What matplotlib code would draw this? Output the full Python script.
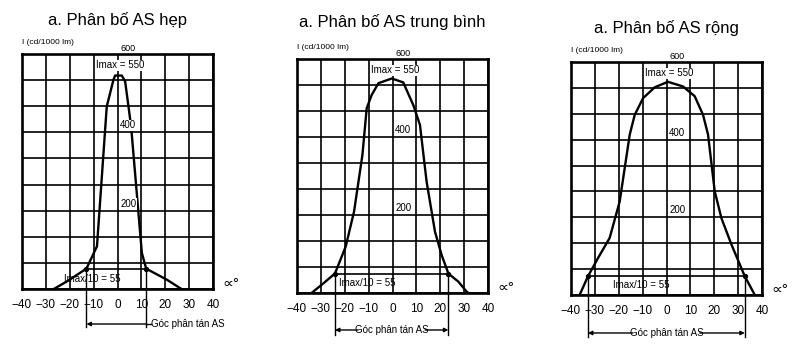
import numpy as np
import matplotlib
matplotlib.use("Agg")
import matplotlib.pyplot as plt

plt.rcParams['font.family'] = ['Liberation Sans', 'DejaVu Sans']

# Light distribution curves
titles = ["a. Phân bố AS hẹp", "a. Phân bố AS trung bình", "a. Phân bố AS rộng"]

narrow_x = [-26.7, -21, -13, -8.6, -4.5, -1.7, -1, 1.8, 3.2, 4.6, 5.7, 10.2, 12, 20.6, 26.8]
narrow_y = [0, 20, 52, 109, 466, 534, 545, 545, 530, 466, 415, 92, 52, 24, 0]

medium_x = [-33.9, -28.9, -24.1, -19.6, -16.1, -12.6, -10.8, -8.7, -5.9, -0.3,
            4.5, 8.7, 11.5, 14.3, 17.8, 20.6, 23.4, 27.6, 31.1, 31.8]
medium_y = [0, 25, 50, 119, 209, 354, 474, 508, 538, 550,
            540, 482, 431, 285, 157, 97, 50, 29, 3, 0]

wide_x = [-36.4, -32.9, -28.7, -23.8, -19.6, -17.5, -15.4, -13.3, -9.8, -4.9, 0.6,
          6.9, 11.8, 15.3, 17.4, 20.2, 23, 27.2, 32.8, 37]
wide_y = [0, 48, 95, 147, 241, 327, 413, 464, 507, 535, 549,
          537, 512, 464, 413, 267, 198, 130, 48, 0]

curves_x = [narrow_x, medium_x, wide_x]
curves_y = [narrow_y, medium_y, wide_y]

# spread angle limits (where curve crosses Imax/10) and level drawn
spread_left = [-13, -24.1, -32.9]
spread_right = [12, 23.4, 32.8]
spread_level = [52, 50, 48]

imax = 550
imax10 = 55
x_ticks = [-40, -30, -20, -10, 0, 10, 20, 30, 40]
y_marks = [600, 400, 200]

# axes boxes in pixels (left, top, bottom) for a 795x351 figure
W, H = 795, 351
boxes = [(22, 54, 289), (297, 59, 293), (571, 62, 295)]
arrow_y = [-0.149, -0.158, -0.163]
vbottom = [-0.163, -0.178, -0.18]
title_y = [1.145, 1.158, 1.146]

fig = plt.figure(figsize=(W / 100, H / 100), dpi=100)

for i in range(3):
    left, top, bottom = boxes[i]
    ax = fig.add_axes([left / W, 1 - bottom / H, 191 / W, (bottom - top) / H])
    ax.set_xlim(-40, 40)
    ax.set_ylim(0, 600)
    ax.set_xticks(x_ticks)
    ax.set_xticklabels([str(t).replace("-", "\u2212") for t in x_ticks], fontsize=8.5)
    ax.set_yticks(np.linspace(0, 600, 10))
    ax.set_yticklabels([])
    ax.tick_params(length=0, pad=7)
    ax.grid(True, color="black", linewidth=1.2)
    ax.set_axisbelow(True)
    for s in ax.spines.values():
        s.set_linewidth(1.9)

    ax.plot(curves_x[i], curves_y[i], color="black", linewidth=1.7, zorder=3)

    xl, xr, lv = spread_left[i], spread_right[i], spread_level[i]
    ax.plot([xl, xr], [lv, lv], color="black", linewidth=1.2, zorder=3)
    ax.plot([xl, xr], [lv, lv], "o", color="black", markersize=2.8, zorder=4)

    # vertical markers running below the axis
    yb = vbottom[i] * 600
    for xv in (xl, xr):
        ax.plot([xv, xv], [lv, yb], color="black", linewidth=1.0, clip_on=False)

    ya = arrow_y[i] * 600
    if i == 0:
        ax.annotate("", xy=(xl, ya), xytext=(xr, ya), annotation_clip=False,
                    arrowprops=dict(arrowstyle="-|>", color="black", lw=1.0,
                                    mutation_scale=6, shrinkA=0, shrinkB=0))
        ax.plot([xr, xr + 2], [ya, ya], color="black", linewidth=1.0, clip_on=False)
        ax.text(xr + 2.2, ya, "Góc phân tán AS", fontsize=7, ha="left", va="center")
    else:
        mid = (xl + xr) / 2
        ax.annotate("", xy=(xl, ya), xytext=(mid - 14, ya), annotation_clip=False,
                    arrowprops=dict(arrowstyle="-|>", color="black", lw=1.0,
                                    mutation_scale=6, shrinkA=0, shrinkB=0))
        ax.annotate("", xy=(xr, ya), xytext=(mid + 14, ya), annotation_clip=False,
                    arrowprops=dict(arrowstyle="-|>", color="black", lw=1.0,
                                    mutation_scale=6, shrinkA=0, shrinkB=0))
        ax.text(mid, ya, "Góc phân tán AS", fontsize=7, ha="center", va="center")

    # value labels inside the grid
    ax.text(4.5, 603, str(y_marks[0]), fontsize=6.5, ha="center", va="bottom")
    for v in y_marks[1:]:
        ax.text(4.5, v + 18, str(v), fontsize=7, ha="center", va="center",
                bbox=dict(facecolor="white", edgecolor="none", pad=0.3))
    ax.text(1.0, 571, f"Imax = {imax}", fontsize=7, ha="center", va="center",
            bbox=dict(facecolor="white", edgecolor="none", pad=0.3))
    ax.text(-10.5, 25, f"Imax/10 = {imax10}", fontsize=7, ha="center", va="center")

    ax.text(0, 1.048, "I (cd/1000 lm)", fontsize=6, ha="left", va="center",
            transform=ax.transAxes)
    ax.text(1.05, 0.02, "\u221d°", fontsize=11, ha="left", va="center",
            transform=ax.transAxes)
    ax.text(0.5, title_y[i], titles[i], fontsize=12, ha="center", va="center",
            transform=ax.transAxes)

fig.savefig("out.png", dpi=100)
